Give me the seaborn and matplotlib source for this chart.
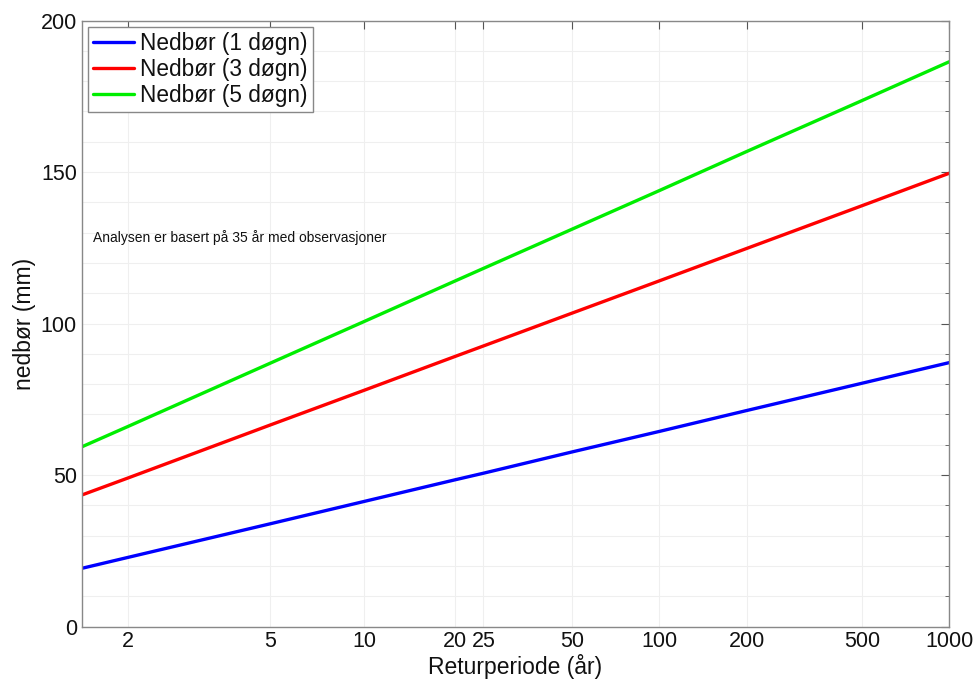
import numpy as np
import pandas as pd
import matplotlib
matplotlib.use("Agg")
import matplotlib.pyplot as plt
from matplotlib.ticker import MultipleLocator, FixedLocator, NullLocator
import seaborn as sns

# ── data ─────────────────────────────────────────────────────
return_period = [1.582, 2, 5, 10, 20, 25, 50, 100, 200, 500, 1000]
nedbor_1 = [19.2, 22.8, 33.9, 41.3, 48.4, 50.6, 57.6, 64.4, 71.3, 80.3, 87.1]
nedbor_3 = [43.4, 49.0, 66.5, 78.0, 89.1, 92.6, 103.4, 114.1, 124.8, 138.9, 149.6]
nedbor_5 = [59.3, 66.0, 86.9, 100.7, 114.0, 118.2, 131.1, 143.9, 156.8, 173.6, 186.4]
series_names = ["Nedbør (1 døgn)", "Nedbør (3 døgn)", "Nedbør (5 døgn)"]
x_ticks = [2, 5, 10, 20, 25, 50, 100, 200, 500, 1000]

df = pd.concat([
    pd.DataFrame({"T": return_period, "mm": vals, "serie": name})
    for name, vals in zip(series_names, [nedbor_1, nedbor_3, nedbor_5])
])

# Gumbel reduced variate scale for the return period axis
def gumbel_fwd(t):
    t = np.asarray(t, dtype=float)
    with np.errstate(all="ignore"):
        return -np.log(-np.log(1.0 - 1.0 / t))

def gumbel_inv(y):
    y = np.asarray(y, dtype=float)
    with np.errstate(all="ignore"):
        return 1.0 / (1.0 - np.exp(-np.exp(-y)))

sns.set_style("white")
plt.rcParams['font.family'] = ['Liberation Sans', 'DejaVu Sans']
plt.rcParams['text.color'] = '#111111'
plt.rcParams['axes.labelcolor'] = '#111111'
plt.rcParams['xtick.labelcolor'] = '#111111'
plt.rcParams['ytick.labelcolor'] = '#111111'

fig = plt.figure(figsize=(9.79, 6.86), dpi=100)
ax = fig.add_axes([0.0835, 0.0867, 0.886, 0.8833])

palette = {series_names[0]: "#0000ff", series_names[1]: "#ff0000", series_names[2]: "#00ee00"}
sns.lineplot(data=df, x="T", y="mm", hue="serie", palette=palette,
             linewidth=2.4, ax=ax, estimator=None, sort=True)

ax.set_xscale("function", functions=(gumbel_fwd, gumbel_inv))
ax.set_xlim(return_period[0], 1000)
ax.set_ylim(0, 200)
ax.xaxis.set_major_locator(FixedLocator(x_ticks))
ax.xaxis.set_minor_locator(NullLocator())
ax.set_xticklabels([str(t) for t in x_ticks])
ax.yaxis.set_major_locator(MultipleLocator(50))
ax.yaxis.set_minor_locator(MultipleLocator(10))

# faint grid like the original
ax.grid(True, which="major", axis="x", color="#efefef", linewidth=0.8)
ax.grid(True, which="both", axis="y", color="#efefef", linewidth=0.8)
ax.set_axisbelow(True)

ax.tick_params(which="both", direction="in", top=True, right=True,
               labelsize=15.5, color="#555555")
ax.tick_params(which="major", length=6)
ax.tick_params(which="minor", length=3)
for sp in ax.spines.values():
    sp.set_color("#888888")
    sp.set_linewidth(1.0)

ax.set_xlabel("Returperiode (år)", fontsize=16.5, labelpad=1)
ax.set_ylabel("nedbør (mm)", fontsize=16.5, labelpad=3)

ax.text(0.013, 0.642, "Analysen er basert på 35 år med observasjoner",
        transform=ax.transAxes, fontsize=10, va="center", ha="left")

leg = ax.legend(loc="upper left", bbox_to_anchor=(0.007, 0.989), borderaxespad=0,
                fontsize=16.3, fancybox=False, framealpha=1, edgecolor="#888888",
                handlelength=1.8, handletextpad=0.3, labelspacing=0.12,
                borderpad=0.22, title=None)
for line in leg.get_lines():
    line.set_linewidth(2.4)

fig.savefig("out.png", dpi=100)
